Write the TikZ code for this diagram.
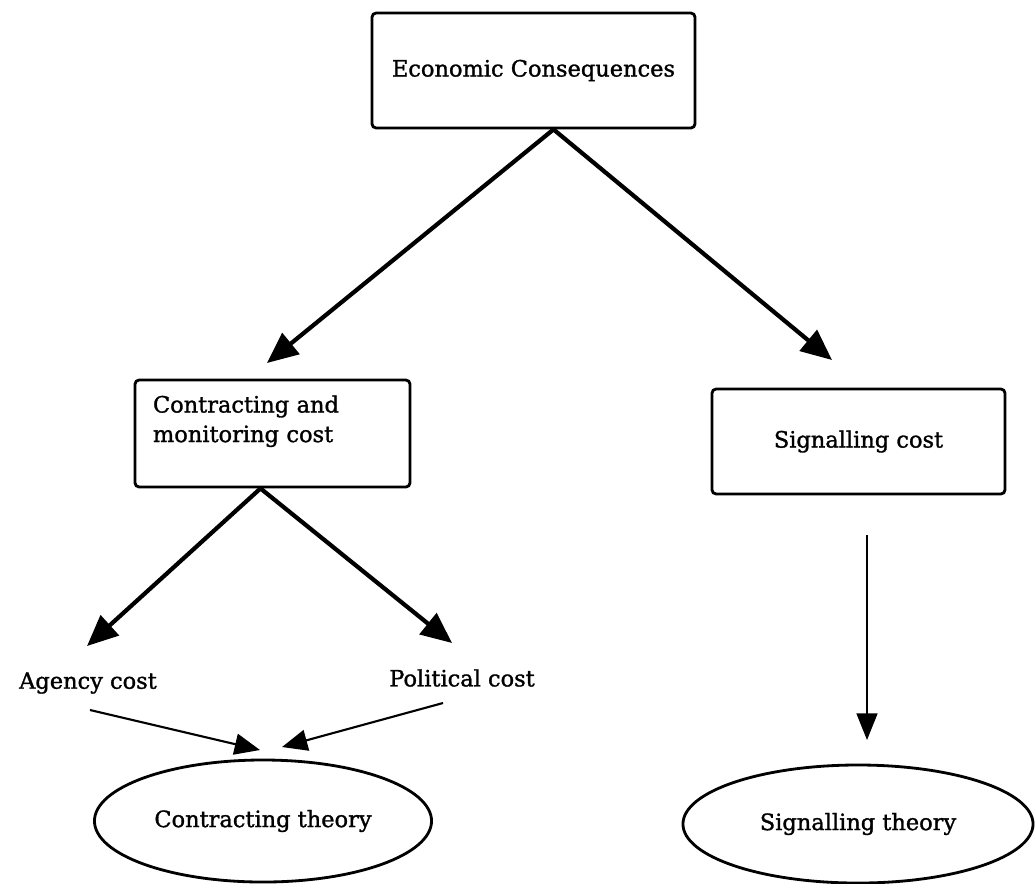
\documentclass[tikz,border=0pt]{standalone}
\usepackage{fontspec}
\setmainfont{DejaVu Serif}[UprightFeatures={FakeBold=1.3}]
\usetikzlibrary{arrows.meta,shapes.geometric}
\tikzset{
  costbox/.style={draw, line width=2pt, rounded corners=3pt, inner sep=0pt},
  theory/.style={draw, ellipse, line width=2pt, inner sep=0pt},
  bigarrow/.style={line width=3pt, -{Triangle[length=22pt,width=19pt]}},
  thinarrow/.style={line width=1.5pt, -{Triangle[length=18pt,width=15pt]}},
  hairarrow/.style={line width=1pt, -{Triangle[length=19pt,width=15pt]}}
}
\begin{document}
\begin{tikzpicture}[x=0.025cm,y=-0.025cm,font=\fontsize{16}{21}\selectfont]
    \useasboundingbox (0,0) rectangle (1036,883);

    \node[costbox, minimum width=8.075cm, minimum height=2.875cm] (ec) at (533.5,70.5) {Economic Consequences};
    \node[costbox, minimum width=6.875cm, minimum height=2.675cm, inner xsep=0.45cm, text width=5.975cm, align=left] (cmc) at (272.5,433.5) {Contracting and\\monitoring cost\\\mbox{}};
    \node[costbox, minimum width=7.325cm, minimum height=2.625cm] (sc) at (858.5,441.5) {Signalling cost};

    \node (ac) at (88,683) {Agency cost};
    \node (pc) at (462,678) {Political cost};

    \node[theory, minimum width=8.425cm, minimum height=3.05cm] (ct) at (263,821) {Contracting theory};
    \node[theory, minimum width=8.75cm, minimum height=2.95cm] (st) at (858,824) {Signalling theory};

    \coordinate (cmctip) at (267,363);
    \coordinate (sctip) at (832,360);
    \coordinate (actip) at (87,646);
    \coordinate (pctip) at (452,643);
    \coordinate (acfoot) at (90,710);
    \coordinate (pcfoot) at (443,703);
    \coordinate (cttip1) at (260,750);
    \coordinate (cttip2) at (282,747);
    \coordinate (scfoot) at (867,535);
    \coordinate (sttip) at (867,740);

    \draw[bigarrow] ([xshift=0.5cm]ec.south) -- (cmctip);
    \draw[bigarrow] ([xshift=0.5cm]ec.south) -- (sctip);
    \draw[bigarrow] ([xshift=-0.3cm]cmc.south) -- (actip);
    \draw[bigarrow] ([xshift=-0.3cm]cmc.south) -- (pctip);

    \draw[thinarrow] (acfoot) -- (cttip1);
    \draw[thinarrow] (pcfoot) -- (cttip2);

    \draw[hairarrow] (scfoot) -- (sttip);

\end{tikzpicture}
\end{document}
